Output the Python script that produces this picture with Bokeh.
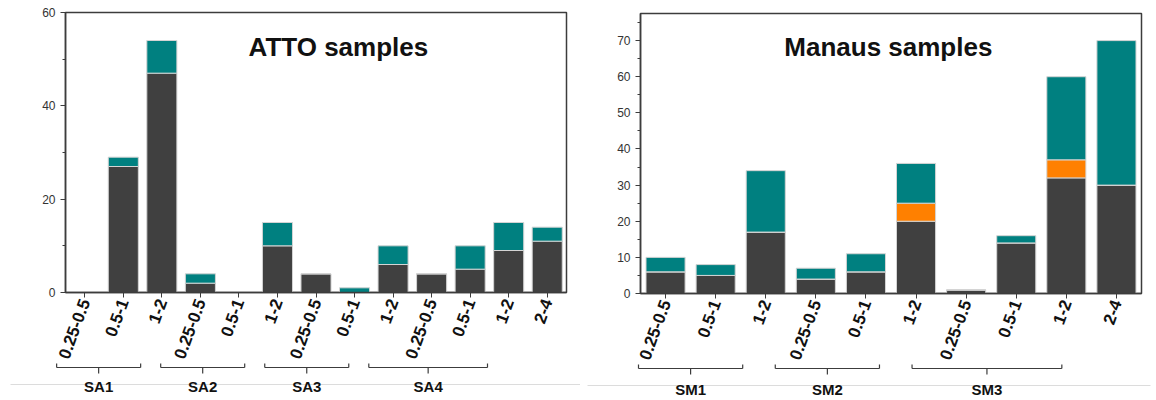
from bokeh.plotting import figure
from bokeh.layouts import row, column
from bokeh.models import Range1d, FixedTicker, SingleIntervalTicker, Label, ColumnDataSource
from bokeh.core.properties import value
from bokeh.embed import file_html
from bokeh.resources import INLINE

# ---------------- data ----------------
atto_sizes = ["0.25-0.5", "0.5-1", "1-2",
              "0.25-0.5", "0.5-1", "1-2",
              "0.25-0.5", "0.5-1", "1-2",
              "0.25-0.5", "0.5-1", "1-2", "2-4"]
atto_group_of = ["SA1"] * 3 + ["SA2"] * 3 + ["SA3"] * 3 + ["SA4"] * 4
atto_dark = [0, 27, 47, 2, 0, 10, 4, 0, 6, 4, 5, 9, 11]
atto_teal = [0, 2, 7, 2, 0, 5, 0, 1, 4, 0, 5, 6, 3]

manaus_sizes = ["0.25-0.5", "0.5-1", "1-2",
                "0.25-0.5", "0.5-1", "1-2",
                "0.25-0.5", "0.5-1", "1-2", "2-4"]
manaus_group_of = ["SM1"] * 3 + ["SM2"] * 3 + ["SM3"] * 4
manaus_dark = [6, 5, 17, 4, 6, 20, 1, 14, 32, 30]
manaus_orange = [0, 0, 0, 0, 0, 5, 0, 0, 5, 0]
manaus_teal = [4, 3, 17, 3, 5, 11, 0, 2, 23, 40]

# ---------------- style / layout ----------------
FONT = "Liberation Sans"
DARK = "#404040"
TEAL = "#008080"
ORANGE = "#FF8000"
AXIS = "#3c3c3c"
FRAME_H = 280
BOTTOM = 76
BR_H = 44
OVERLAP = 12


def make_panel(sizes, group_of, names, stacks, colors, y_end, y_interval,
               title, title_x, title_y, fig_w, b_left, b_right, b_top,
               br_slope, br_off_lo, br_off_hi, label_y, gray_x0, gray_x1):
    n = len(sizes)
    xs = list(range(1, n + 1))
    x_range = Range1d(0.5, n + 0.5)
    main_h = b_top + FRAME_H + BOTTOM
    p = figure(width=fig_w, height=main_h, x_range=x_range,
               y_range=Range1d(0, y_end), output_backend="svg",
               toolbar_location=None, min_border_left=b_left,
               min_border_right=b_right, min_border_top=b_top,
               min_border_bottom=BOTTOM)
    p.frame_align = False
    data = dict(x=xs)
    for nm, vals in zip(names, stacks):
        data[nm] = vals
    src = ColumnDataSource(data)
    p.vbar_stack(names, x="x", width=0.78, fill_color=colors,
                 line_color="#d4d4d4", line_width=1, source=src)

    p.xgrid.visible = False
    p.ygrid.visible = False
    p.outline_line_color = AXIS
    p.outline_line_width = 1.5
    p.background_fill_color = "white"

    for ax in p.axis:
        ax.axis_line_color = AXIS
        ax.axis_line_width = 1.5
        ax.major_tick_line_color = AXIS
        ax.minor_tick_line_color = AXIS
        ax.major_tick_in = 0
        ax.major_tick_out = 5
        ax.minor_tick_in = 0
        ax.minor_tick_out = 3
        ax.major_label_text_font = FONT

    p.xaxis.ticker = FixedTicker(ticks=xs)
    p.xaxis.major_label_overrides = {x: s for x, s in zip(xs, sizes)}
    p.xaxis.minor_tick_line_color = None
    p.xaxis.major_label_orientation = 1.22
    p.xaxis.major_label_text_font_style = "bold"
    p.xaxis.major_label_text_font_size = "17px"
    p.xaxis.major_label_text_color = "#111111"
    p.xaxis.major_label_standoff = 2

    p.yaxis.ticker = SingleIntervalTicker(interval=y_interval, num_minor_ticks=2)
    p.yaxis.major_label_text_font_size = "12px"
    p.yaxis.major_label_text_color = "#333333"
    p.yaxis.major_label_standoff = 5

    p.add_layout(Label(x=title_x, y=title_y, text=title, text_font=FONT,
                       text_font_size="26px", text_font_style="bold",
                       text_color="#111111", text_align="left",
                       text_baseline="middle"))

    # bracket strip below the axis
    ppu = (fig_w - b_left - b_right) / n
    bx = Range1d(0.5 - b_left / ppu, n + 0.5 + b_right / ppu)
    bf = figure(width=fig_w, height=BR_H, x_range=bx, y_range=Range1d(BR_H, 0),
                output_backend="svg", toolbar_location=None,
                x_axis_type=None, y_axis_type=None, min_border=0,
                min_border_left=0, min_border_right=0,
                min_border_top=0, min_border_bottom=0)
    bf.frame_align = False
    bf.margin = (-OVERLAP, 0, 0, 0)
    bf.xgrid.visible = False
    bf.ygrid.visible = False
    bf.outline_line_color = None
    bf.background_fill_color = None
    bf.border_fill_color = None

    groups = []
    for g in group_of:
        if g not in groups:
            groups.append(g)
    x0, y0, x1, y1, mids = [], [], [], [], []
    for g in groups:
        idx = [i + 1 for i, gg in enumerate(group_of) if gg == g]
        lo = br_slope * (idx[0] - 1) + br_off_lo
        hi = br_slope * (idx[-1] - 1) + br_off_hi
        mid = (lo + hi) / 2
        mids.append(mid)
        x0 += [lo, lo, hi, mid]
        x1 += [hi, lo, hi, mid]
        y0 += [11, 11, 11, 11]
        y1 += [11, 7, 7, 17]
    gx0 = bx.start + gray_x0 / ppu
    gx1 = bx.end - gray_x1 / ppu
    bf.segment(x0=[gx0], y0=[28], x1=[gx1], y1=[28], line_color="#dcdcdc", line_width=1)
    bf.segment(x0=x0, y0=y0, x1=x1, y1=y1, line_color=AXIS, line_width=1.2)
    bf.text(x=mids, y=[label_y] * len(mids), text=groups,
            text_font=value(FONT), text_font_style="bold",
            text_font_size="15px", text_color="#111111",
            text_align="center", text_baseline="middle")
    return column(p, bf, spacing=0)


left = make_panel(atto_sizes, atto_group_of, ["dark", "teal"],
                  [atto_dark, atto_teal], [DARK, TEAL], 60, 20,
                  "ATTO samples", 5.25, 52.6, 580, 65, 14, 12,
                  0.9, 0.27, 0.65, 30, 10, 0)
right = make_panel(manaus_sizes, manaus_group_of, ["dark", "orange", "teal"],
                   [manaus_dark, manaus_orange, manaus_teal],
                   [DARK, ORANGE, TEAL], 77.5, 10,
                   "Manaus samples", 3.37, 68.1, 576, 60, 15, 13,
                   0.91, 0.46, 0.72, 32, 7, 6)

layout = row(left, right, spacing=0)
open("out.html", "w").write(file_html(layout, INLINE))
